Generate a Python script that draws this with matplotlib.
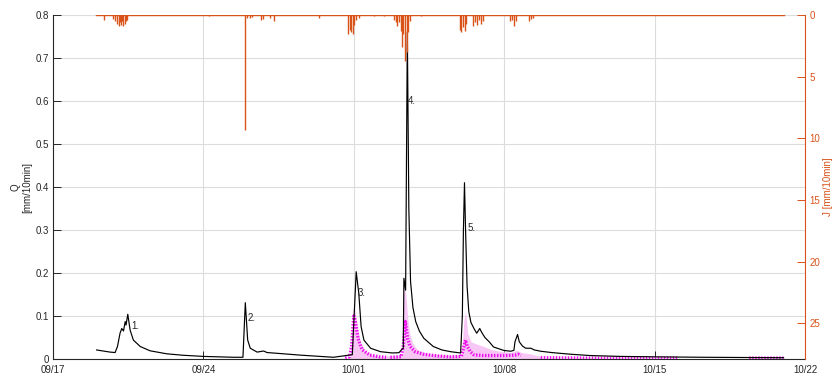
import numpy as np
import matplotlib
matplotlib.use('Agg')
import matplotlib.pyplot as plt

plt.rcParams['font.family'] = ['Liberation Sans', 'DejaVu Sans']

# time in days since 09/17 00:00
q_obs_t = [2.03, 2.66, 2.89, 3.0, 3.12, 3.2, 3.28, 3.36, 3.4, 3.48, 3.59, 3.74, 4.06, 4.52, 5.3,
           6.07, 7.0, 8.4, 8.84, 8.95, 9.06, 9.18, 9.5, 9.8, 9.96, 10.74, 11.5, 13.05, 13.93,
           14.11, 14.23, 14.34, 14.47, 14.78, 15.24, 15.79, 16.1, 16.21, 16.3, 16.33, 16.41,
           16.49, 16.56, 16.64, 16.75, 16.88, 17.05, 17.26, 17.7, 18.1, 18.5, 18.97, 19.05,
           19.1, 19.15, 19.2, 19.27, 19.35, 19.45, 19.6, 19.72, 19.86, 19.95, 20.1, 20.3, 20.5,
           20.97, 21.3, 21.45, 21.5, 21.62, 21.7, 21.85, 22.0, 22.24, 22.4, 22.7, 23.2, 23.64,
           24.1, 25.0, 26.4, 28.0, 30.2, 32.0, 34.0]
q_obs = [0.021, 0.016, 0.015, 0.029, 0.06, 0.071, 0.065, 0.087, 0.079, 0.104, 0.067, 0.044, 0.029,
         0.019, 0.012, 0.0086, 0.006, 0.004, 0.004, 0.131, 0.044, 0.025, 0.016, 0.0186, 0.015,
         0.012, 0.009, 0.004, 0.01, 0.203, 0.153, 0.075, 0.044, 0.025, 0.017, 0.014, 0.0146,
         0.021, 0.025, 0.188, 0.16, 0.76, 0.35, 0.18, 0.12, 0.087, 0.065, 0.048, 0.029, 0.021,
         0.017, 0.014, 0.1, 0.3, 0.41, 0.3, 0.17, 0.11, 0.085, 0.07, 0.06, 0.071, 0.062, 0.05,
         0.04, 0.028, 0.02, 0.018, 0.02, 0.04, 0.057, 0.04, 0.03, 0.025, 0.025, 0.021, 0.018,
         0.015, 0.013, 0.011, 0.008, 0.006, 0.005, 0.004, 0.0035, 0.003]

# simulated discharge (dots), nan = gap
q_sim_t = [13.6, 13.8, 13.9, 14.0, 14.06, 14.13, 14.2, 14.3, 14.4, 14.75, 15.2, 15.5, 15.55, 15.7,
           16.2, 16.3, 16.4, 16.45, 16.5, 16.62, 16.85, 17.25, 17.9, 18.5, 19.0, 19.08, 19.15,
           19.2, 19.28, 19.42, 19.58, 20.0, 21.0, 21.5, 21.65, 21.77, 22.2, 22.7, 25.0, 29.1,
           30.0, 32.4, 34.0]
q_sim = [0.002, 0.005, 0.03, 0.1, 0.09, 0.068, 0.047, 0.033, 0.021, 0.009, 0.005, 0.004, np.nan,
         0.004, 0.005, 0.03, 0.087, 0.067, 0.048, 0.029, 0.017, 0.011, 0.007, 0.005, 0.006, 0.02,
         0.035, 0.044, 0.029, 0.017, 0.01, 0.008, 0.008, 0.009, 0.011, 0.008, np.nan, 0.003,
         0.002, 0.002, np.nan, 0.002, 0.002]

# uncertainty band of the simulation
band_t = [13.85, 13.98, 14.05, 14.15, 14.3, 14.5, 14.8, 15.2, 16.28, 16.33, 16.42, 16.5, 16.6,
          16.75, 17.0, 17.5, 18.5, 19.02, 19.12, 19.2, 19.3, 19.45, 19.7, 20.0, 20.4, 20.8,
          21.3, 21.6, 21.8, 22.2, 22.7]
band_hi = [0.01, 0.12, 0.115, 0.08, 0.04, 0.02, 0.01, 0.006, 0.01, 0.17, 0.15, 0.1, 0.06, 0.035,
           0.02, 0.012, 0.008, 0.01, 0.09, 0.11, 0.06, 0.04, 0.035, 0.03, 0.022, 0.018, 0.015,
           0.02, 0.015, 0.012, 0.006]

# rainfall J [mm/10min]
rain_t = [2.38, 2.81, 2.89, 2.97, 3.05, 3.1, 3.15, 3.2, 3.28, 3.36, 3.4, 3.46, 7.24, 8.92, 9.05,
          9.15, 9.25, 9.7, 9.75, 10.12, 10.27, 12.37, 13.73, 13.8, 13.89, 13.95, 14.03, 14.12,
          14.23, 14.93, 15.4, 15.86, 15.94, 16.02, 16.1, 16.18, 16.25, 16.3, 16.38, 16.46,
          16.52, 16.6, 17.11, 18.94, 19.0, 19.08, 19.16, 19.24, 19.56, 19.64, 19.75, 19.83,
          19.9, 20.01, 21.27, 21.35, 21.46, 21.54, 22.16, 22.24, 22.32]
rain = [0.4, 0.3, 0.5, 0.7, 0.9, 0.6, 0.8, 0.5, 0.9, 0.7, 0.5, 0.4, 0.1, 9.3, 0.2, 0.2, 0.15,
        0.4, 0.3, 0.2, 0.5, 0.2, 1.5, 1.2, 1.4, 1.5, 0.8, 0.4, 0.2, 0.1, 0.05, 0.4, 0.6, 0.9,
        0.6, 1.3, 2.6, 1.5, 3.7, 3.0, 1.4, 0.5, 0.1, 1.2, 1.4, 1.0, 1.3, 0.7, 0.9, 0.6, 0.8,
        0.4, 0.7, 0.5, 0.5, 0.4, 0.9, 0.5, 0.5, 0.3, 0.2]
rain_start, rain_end = 2.0, 34.0

event_labels = ['1.', '2.', '3.', '4.', '5.']
event_t = [3.63, 9.04, 14.2, 16.53, 19.28]
event_q = [0.077, 0.095, 0.153, 0.6, 0.305]

xtick_days = [0, 7, 14, 21, 28, 35]
xtick_labels = ['09/17', '09/24', '10/01', '10/08', '10/15', '10/22']

orange = '#D95319'
txt = '#262626'

fig = plt.figure(figsize=(8.36, 3.8), dpi=100)
ax = fig.add_axes([0.0634, 0.0553, 0.8996, 0.905])

ax.fill_between(band_t, 0, band_hi, color='#f7c6f5', lw=0, zorder=1)
ax.plot(q_obs_t, q_obs, color='black', lw=0.85, zorder=3)
ax.plot(q_sim_t, q_sim, color='#ee11ee', lw=2.4, ls=(0, (0.45, 0.45)), zorder=2)

for lab, t, q in zip(event_labels, event_t, event_q):
    ax.text(t, q, lab, fontsize=7, color=txt, ha='left', va='center')

ax.set_xlim(0, 35)
ax.set_ylim(0, 0.8)
ax.set_xticks(xtick_days)
ax.set_xticklabels(xtick_labels)
ax.set_yticks(np.arange(0, 0.81, 0.1))
ax.set_yticklabels(['0', '0.1', '0.2', '0.3', '0.4', '0.5', '0.6', '0.7', '0.8'])
ax.grid(True, color='#dcdcdc', lw=0.8)
ax.set_axisbelow(True)
ax.tick_params(direction='in', length=5.5, width=0.7, labelsize=7, colors=txt, pad=3)
ax.tick_params(axis='x', pad=4)
ax.set_ylabel('Q\n[mm/10min]', fontsize=7, color=txt, labelpad=2)
for s in ['top', 'right']:
    ax.spines[s].set_visible(False)
ax.spines['left'].set_color(txt)
ax.spines['bottom'].set_color(txt)

ax2 = ax.twinx()
ax2.plot([rain_start, rain_end], [0, 0], color=orange, lw=1.0)
ax2.vlines(rain_t, 0, rain, color=orange, lw=1.0)
ax2.set_ylim(27.9, 0)
ax2.set_yticks([0, 5, 10, 15, 20, 25])
ax2.tick_params(direction='in', length=5.5, width=0.7, labelsize=7, colors=orange, pad=3)
ax2.set_ylabel('J [mm/10min]', fontsize=7, color=orange, labelpad=2)
for s in ['top', 'left', 'bottom']:
    ax2.spines[s].set_visible(False)
ax2.spines['right'].set_color(orange)

fig.savefig('out.png', dpi=100)
